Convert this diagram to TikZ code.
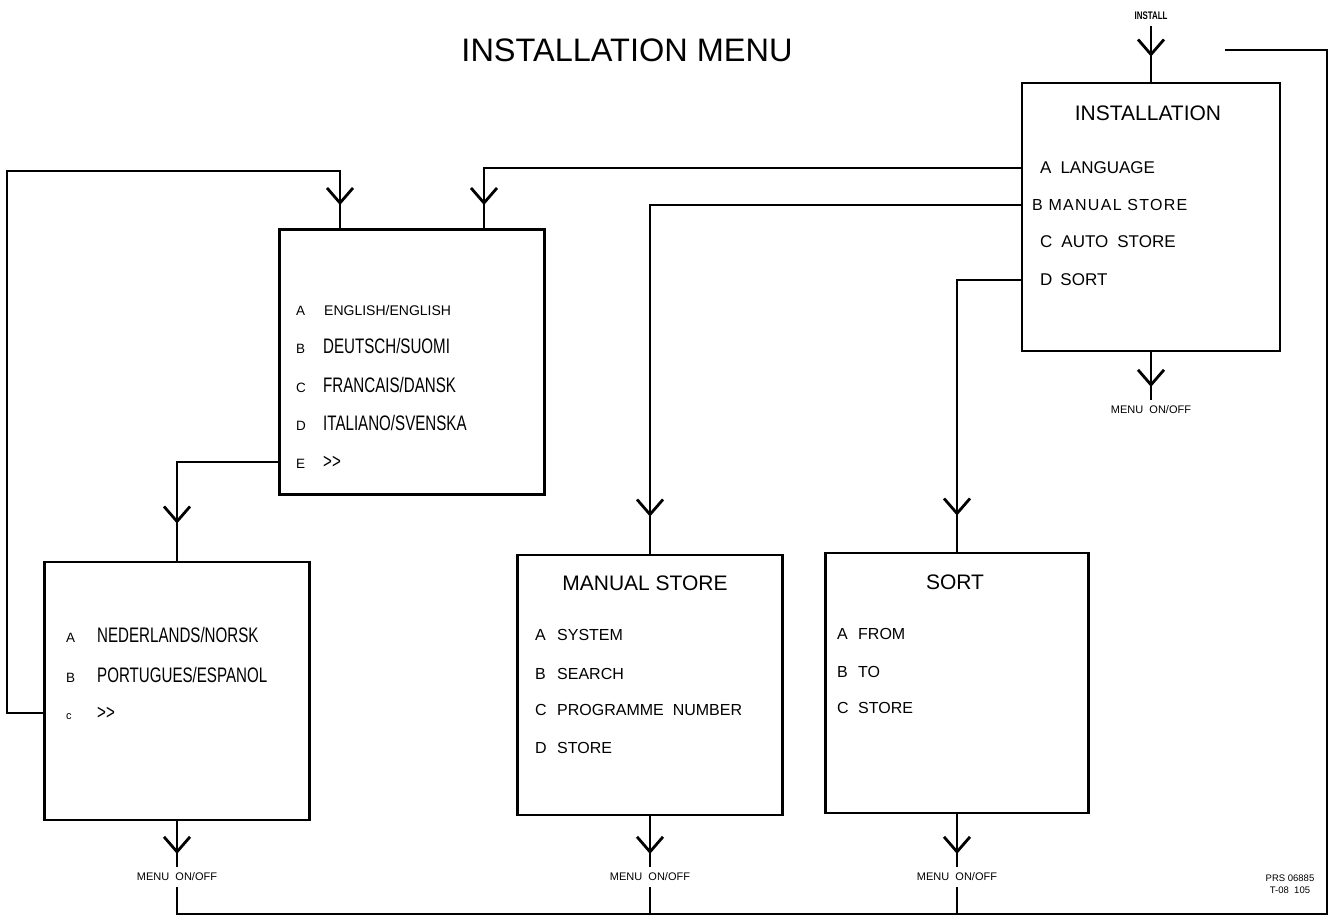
\documentclass[tikz,border=0pt]{standalone}
\usepackage{fontspec}
\setmainfont{Liberation Sans}
\newfontfamily\narrowfont[FakeStretch=0.72]{Liberation Sans}
\newfontfamily\spacedfont[LetterSpace=8]{Liberation Sans}
\usetikzlibrary{arrows.meta}
\usetikzlibrary{decorations.markings}

\tikzset{
  menubox/.style={draw, line width=2.8pt, shape=rectangle, inner sep=0pt, minimum width=265pt, minimum height=260pt},
  wire/.style={line width=2.8pt},
  vdown/.style={decoration={markings, mark=at position #1 with {\arrow{Straight Barb[length=15pt,width=26pt]}}}, postaction={decorate}},
  item/.style={anchor=west, inner sep=0pt, font=\fontsize{16}{19}\selectfont},
  heading/.style={inner sep=0pt, font=\fontsize{21}{25}\selectfont},
  onoff/.style={inner sep=2pt, outer sep=4pt, font=\fontsize{11}{13}\selectfont},
}
\newcommand{\lettered}[3]{\makebox[#1][l]{\fontsize{13.5}{15}\selectfont #2}#3}

\begin{document}
\begin{tikzpicture}[x=1pt, y=-1pt]
\useasboundingbox (0,0) rectangle (1328,917);

\node [inner sep=0pt, font=\fontsize{32.5}{38}\selectfont] (title) at (627,50) {INSTALLATION MENU};

% the five screens
\node [menubox, minimum width=258pt, minimum height=268pt] (inst) at (1151,217) {};
\node [menubox, minimum height=265pt] (langa) at (412,362) {};
\node [menubox, minimum height=258pt] (langb) at (177,691) {};
\node [menubox] (manual) at (650,685) {};
\node [menubox, minimum width=263pt] (sort) at (957,683) {};

\node [inner sep=2pt, outer sep=4pt, font=\fontsize{11}{13}\narrowfont\bfseries] (install) at (1151,16) {INSTALL};

\node [heading] (insthead) at (1148,113) {INSTALLATION};
\node [item, font=\fontsize{17}{20}\selectfont] (ia) at (1040,168) {A\hspace{9pt}LANGUAGE};
\node [item, font=\fontsize{16}{20}\spacedfont] (ib) at (1032,205) {B MANUAL STORE};
\node [item, font=\fontsize{17}{20}\selectfont] (ic) at (1040,242) {C\hspace{9pt}AUTO\hspace{9pt}STORE};
\node [item, font=\fontsize{17}{20}\selectfont] (id) at (1040,280) {D\hspace{8pt}SORT};

\node [item] (lea) at (296,310) {\lettered{28pt}{A}{\fontsize{14}{17}\selectfont ENGLISH/ENGLISH}};
\node [item] (leb) at (296,346) {\lettered{27pt}{B}{\fontsize{21}{24}\narrowfont DEUTSCH/SUOMI}};
\node [item] (lec) at (296,385) {\lettered{27pt}{C}{\fontsize{21}{24}\narrowfont FRANCAIS/DANSK}};
\node [item] (led) at (296,423) {\lettered{27pt}{D}{\fontsize{21}{24}\narrowfont ITALIANO/SVENSKA}};
\node [item] (lee) at (296,462) {\lettered{27pt}{E}{\fontsize{21}{24}\narrowfont \textgreater\textgreater}};

\node [item] (lba) at (66,635) {\lettered{31pt}{A}{\fontsize{21}{24}\narrowfont NEDERLANDS/NORSK}};
\node [item] (lbb) at (66,675) {\lettered{31pt}{B}{\fontsize{21}{24}\narrowfont PORTUGUES/ESPANOL}};
\node [item] (lbc) at (66,713) {\lettered{31pt}{\fontsize{11}{13}\selectfont c}{\fontsize{21}{24}\narrowfont \textgreater\textgreater}};

\node [heading] (manhead) at (645,583) {MANUAL STORE};
\node [item] (msa) at (535,635) {\makebox[22pt][l]{A}SYSTEM};
\node [item] (msb) at (535,674) {\makebox[22pt][l]{B}SEARCH};
\node [item] (msc) at (535,710) {\makebox[22pt][l]{C}PROGRAMME\ \ NUMBER};
\node [item] (msd) at (535,748) {\makebox[22pt][l]{D}STORE};

\node [heading] (sorthead) at (955,582) {SORT};
\node [item] (soa) at (837,634) {\makebox[21pt][l]{A}FROM};
\node [item] (sob) at (837,672) {\makebox[21pt][l]{B}TO};
\node [item] (soc) at (837,708) {\makebox[21pt][l]{C}STORE};

\node [onoff] (mi) at (1151,410) {MENU\ \ ON/OFF};
\node [onoff] (mb) at (177,877) {MENU\ \ ON/OFF};
\node [onoff] (mm) at (650,877) {MENU\ \ ON/OFF};
\node [onoff] (ms) at (957,877) {MENU\ \ ON/OFF};

\node [inner sep=0pt, align=center, font=\fontsize{9.5}{12}\selectfont] (prs) at (1290,884) {PRS 06885\\T-08\ \ 105};

\coordinate (lft) at (7,171);
\coordinate (botR) at (1327,914);
\coordinate (topR) at (1327,50);
\coordinate (retn) at (1225,50);

% connectors
\draw [wire, vdown=-25pt] (install.south) -- (inst.north);
\draw [wire, vdown=-23pt] (inst.west |- ia) -| ([xshift=72pt]langa.north);
\draw [wire, vdown=-23pt] (langb.west |- lbc) -| (lft) -| ([xshift=-72pt]langa.north);
\draw [wire, vdown=-37pt] (langa.west |- lee) -| (langb.north);
\draw [wire, vdown=-37pt] (inst.west |- ib) -| (manual.north);
\draw [wire, vdown=-36pt] (inst.west |- id) -| (sort.north);
\foreach \b/\m in {inst/mi, langb/mb, manual/mm, sort/ms}
  \draw [wire, vdown=-13pt] (\b.south) -- (\m.north);
\draw [wire] (mb.south) |- (botR) -- (topR) -- (retn);
\draw [wire] (mm.south) -- (mm.south |- botR);
\draw [wire] (ms.south) -- (ms.south |- botR);
\end{tikzpicture}
\end{document}
